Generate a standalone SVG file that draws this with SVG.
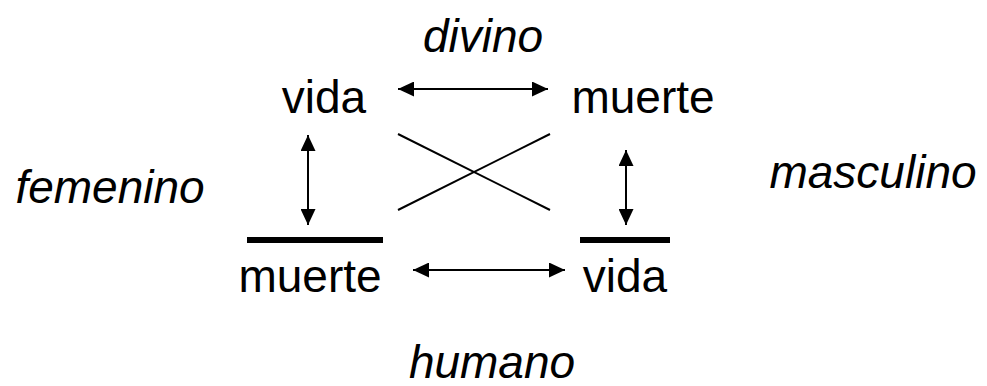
<svg xmlns="http://www.w3.org/2000/svg" width="987" height="386" viewBox="0 0 987 386">
<defs>
<marker id="ah" viewBox="0 0 16 15" refX="16" refY="7.5" markerWidth="16" markerHeight="15" markerUnits="userSpaceOnUse" orient="auto-start-reverse">
<path d="M0,0 L16,7.5 L0,15 Z" fill="#000"/>
</marker>
</defs>
<style>
text{font-family:"Liberation Sans",Arial,sans-serif;font-size:46px;fill:#000}
.i{font-style:italic}
.c{stroke:#000;stroke-width:2;fill:none}
.bar{stroke:#000;stroke-width:6}
</style>
<rect width="987" height="386" fill="#fff"/>
<g id="label-divino"><text class="i" x="483" y="52" text-anchor="middle">divino</text></g>
<g id="label-femenino"><text class="i" x="110" y="203" text-anchor="middle">femenino</text></g>
<g id="label-masculino"><text class="i" x="873" y="188" text-anchor="middle">masculino</text></g>
<g id="label-humano"><text class="i" x="492" y="378" text-anchor="middle">humano</text></g>
<g id="node-vida-top"><text x="324" y="113" text-anchor="middle">vida</text></g>
<g id="node-muerte-top"><text x="643" y="113" text-anchor="middle">muerte</text></g>
<g id="node-muerte-bottom"><line class="bar" x1="247" y1="240" x2="383" y2="240"/><text x="310" y="292" text-anchor="middle">muerte</text></g>
<g id="node-vida-bottom"><line class="bar" x1="580" y1="240" x2="670" y2="240"/><text x="625" y="292" text-anchor="middle">vida</text></g>
<g id="connectors">
<line class="c" x1="398" y1="89" x2="548" y2="89" marker-start="url(#ah)" marker-end="url(#ah)"/>
<line class="c" x1="413" y1="270" x2="565" y2="270" marker-start="url(#ah)" marker-end="url(#ah)"/>
<line class="c" x1="308" y1="135" x2="308" y2="225" marker-start="url(#ah)" marker-end="url(#ah)"/>
<line class="c" x1="626" y1="150" x2="626" y2="225" marker-start="url(#ah)" marker-end="url(#ah)"/>
<line class="c" x1="398" y1="134" x2="550" y2="210"/>
<line class="c" x1="398" y1="210" x2="550" y2="134"/>
</g>
</svg>
